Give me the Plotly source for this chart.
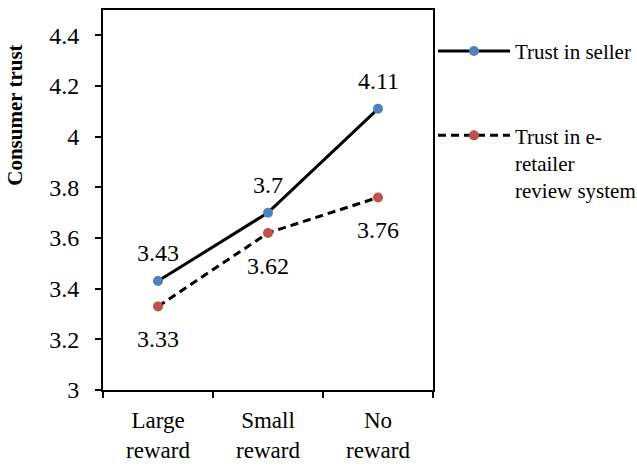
import plotly.graph_objects as go

categories = ["Large<br>reward", "Small<br>reward", "No<br>reward"]
seller = [3.43, 3.7, 4.11]
review = [3.33, 3.62, 3.76]
seller_name = "Trust in seller"
review_name = "Trust in e-<br>retailer<br>review system"
y_title = "Consumer trust"
y_ticks = [3, 3.2, 3.4, 3.6, 3.8, 4, 4.2, 4.4]

FONT = "Liberation Serif"
BLUE = "#4F81BD"
RED = "#C0504D"

fig = go.Figure()
fig.add_trace(go.Scatter(
    x=categories, y=seller, mode="lines+markers", name=seller_name,
    legendgroup="a",
    line=dict(color="black", width=3),
    marker=dict(color=BLUE, size=10),
))
fig.add_trace(go.Scatter(
    x=categories, y=review, mode="lines+markers", name=review_name,
    legendgroup="b",
    line=dict(color="black", width=3, dash="8px,5px"),
    marker=dict(color=RED, size=10),
))

annotations = []
for c, v in zip(categories, seller):
    annotations.append(dict(x=c, y=v, text=f"{v:g}", showarrow=False,
                            yshift=28, font=dict(size=24, color="black", family=FONT)))
for c, v in zip(categories, review):
    annotations.append(dict(x=c, y=v, text=f"{v:g}", showarrow=False,
                            yshift=-33, font=dict(size=24, color="black", family=FONT)))
annotations.append(dict(xref="paper", yref="paper", x=-0.267, y=0.724,
                        xanchor="center", yanchor="middle", textangle=-90,
                        text=f"<b>{y_title}</b>", showarrow=False,
                        font=dict(size=21, color="black", family=FONT)))

fig.update_layout(
    width=637, height=466,
    margin=dict(l=103, r=204, t=10, b=76, autoexpand=False),
    paper_bgcolor="white", plot_bgcolor="white",
    font=dict(family=FONT, color="black", size=24),
    annotations=annotations,
    showlegend=True,
    legend=dict(x=1.0, y=0.945, xanchor="left", yanchor="top",
                font=dict(size=21, family=FONT, color="black"),
                valign="top", tracegroupgap=54, itemwidth=72,
                bgcolor="rgba(0,0,0,0)"),
)
fig.update_xaxes(
    type="category", range=[-0.5, 2.5], automargin=False,
    showline=True, linecolor="black", linewidth=2, mirror=True,
    ticks="outside", tickson="boundaries", ticklen=6, tickwidth=2, tickcolor="black",
    showgrid=False, zeroline=False,
    tickfont=dict(size=23, family=FONT, color="black"),
    ticklabelstandoff=8,
)
fig.update_yaxes(
    range=[3, 4.5], tickvals=y_ticks, automargin=False,
    showline=True, linecolor="black", linewidth=2, mirror=True,
    ticks="outside", ticklen=6, tickwidth=2, tickcolor="black",
    showgrid=False, zeroline=False,
    tickfont=dict(size=24, family=FONT, color="black"),
    ticklabelstandoff=11,
)

fig.write_html("out.html")
